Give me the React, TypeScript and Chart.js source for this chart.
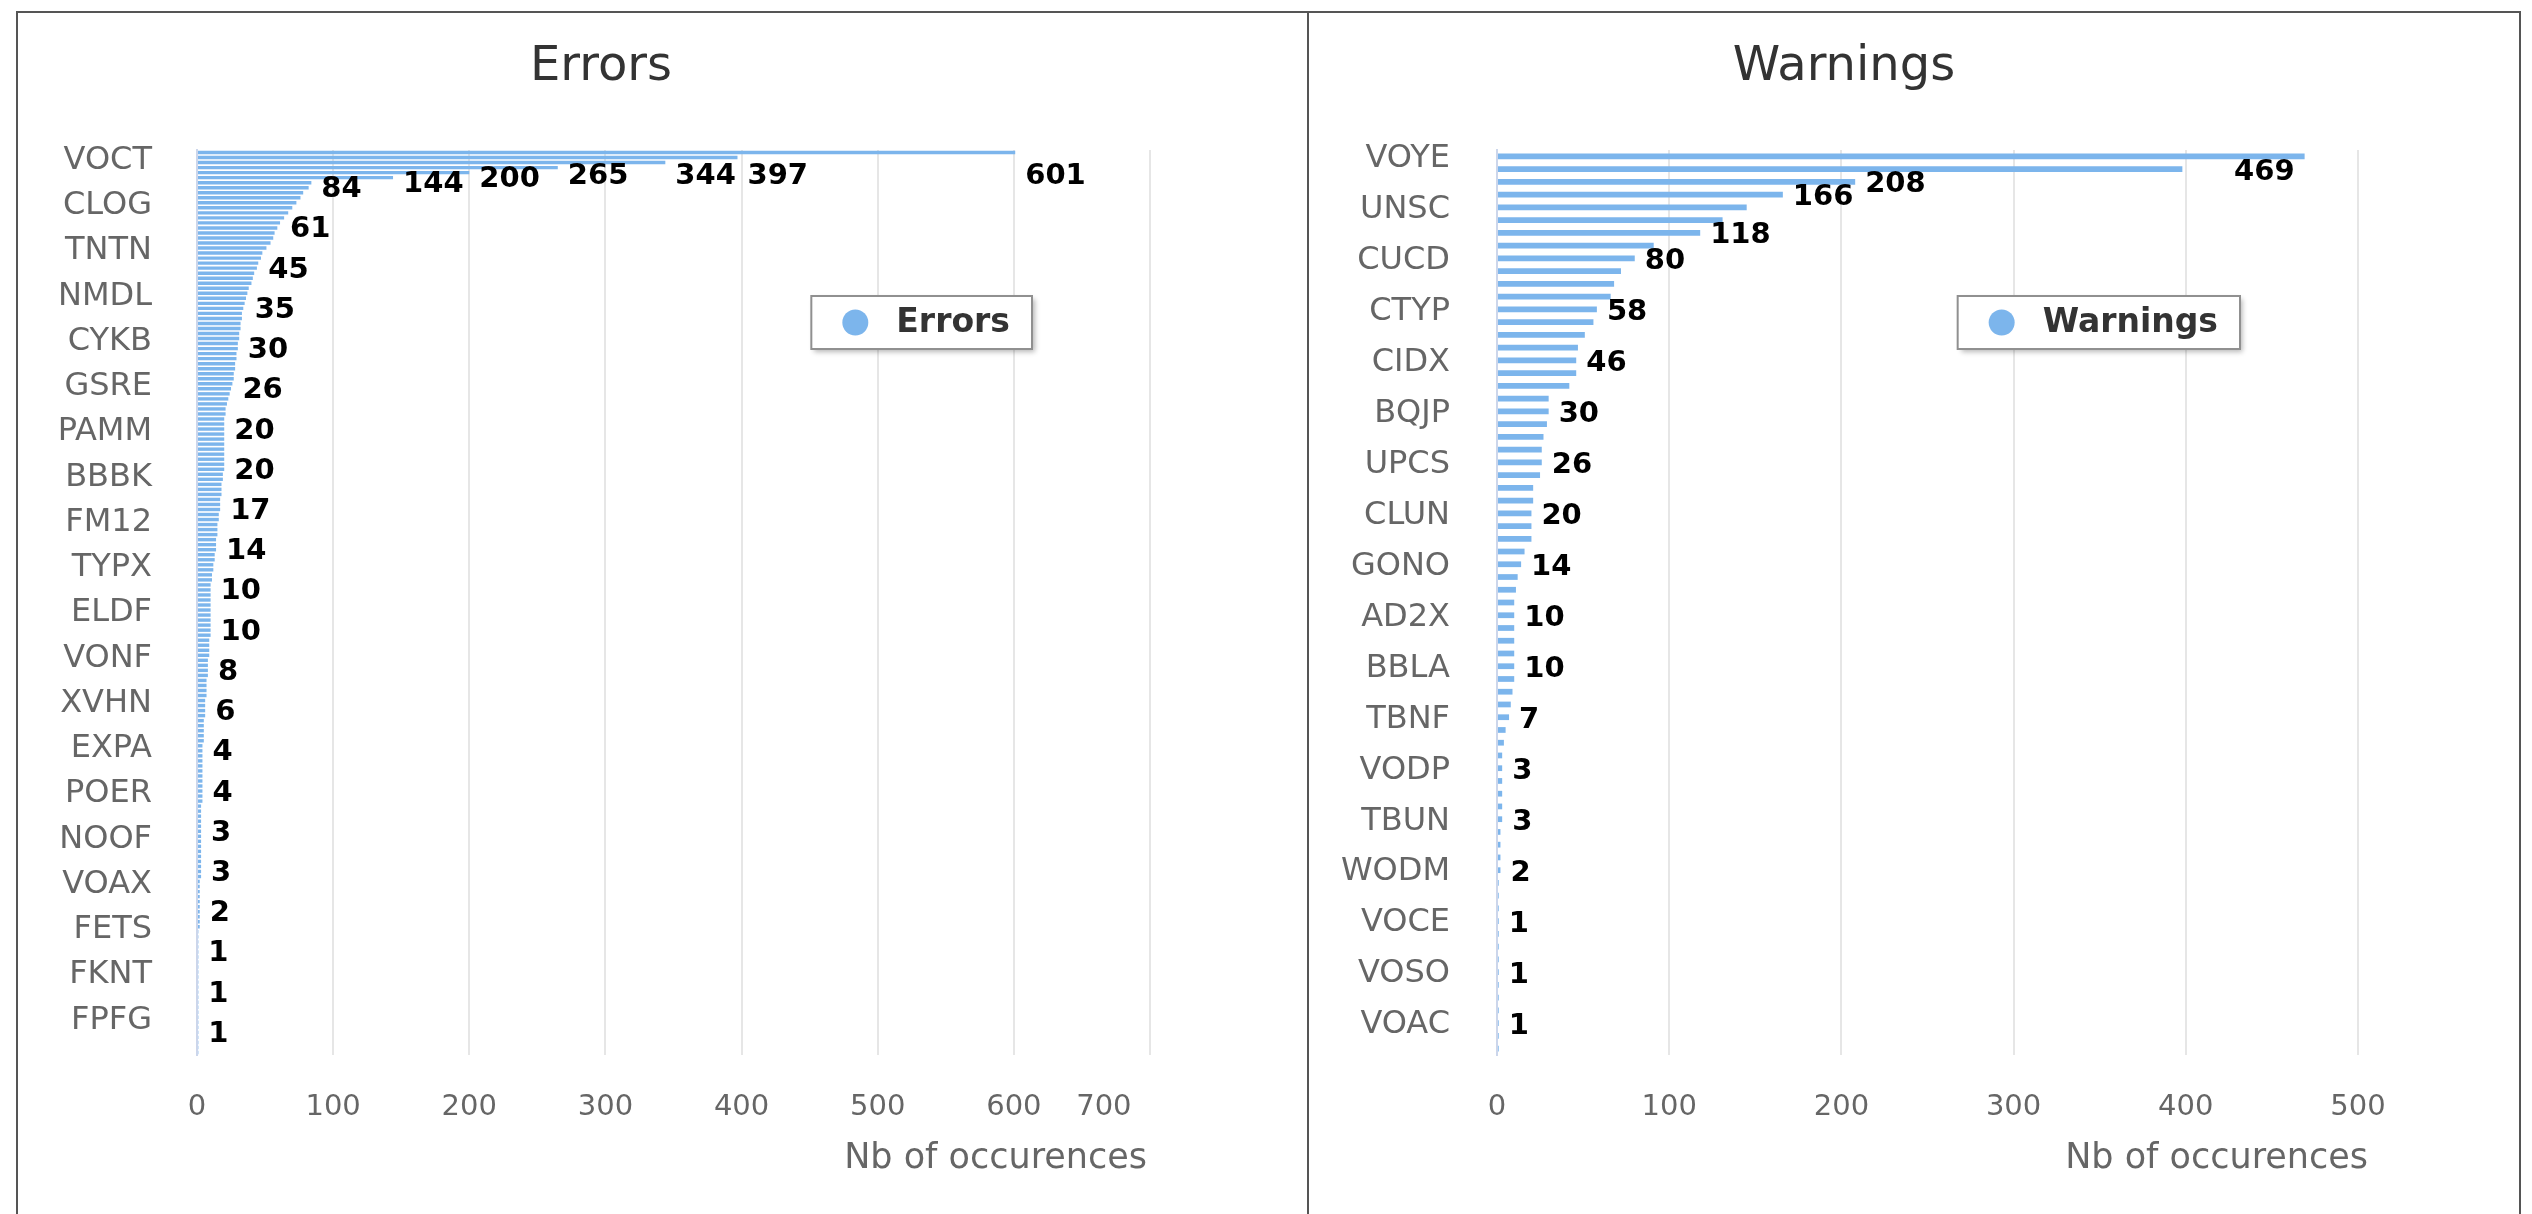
import React, { useEffect, useRef } from 'react';
import { Chart, registerables } from 'chart.js';

Chart.register(...registerables);

// ---------------- DATA ----------------
const errorTickNames = ['VOCT', 'CLOG', 'TNTN', 'NMDL', 'CYKB', 'GSRE', 'PAMM', 'BBBK', 'FM12', 'TYPX',
  'ELDF', 'VONF', 'XVHN', 'EXPA', 'POER', 'NOOF', 'VOAX', 'FETS', 'FKNT', 'FPFG'];
const errorLabelStep = 9;
const errorValues = [
  601, 397, 344, 265, 200, 144,
  84, 82, 78, 76, 73, 70, 67, 64,
  61, 59, 57, 56, 54, 51, 48, 47,
  45, 44, 42, 41, 40, 38, 37, 36,
  35, 34, 33, 33, 32, 32, 31, 31,
  30, 30, 29, 29, 28, 28, 27, 27,
  26, 25, 24, 23, 22, 21, 21, 20,
  20, 20, 20, 20, 20, 20, 20, 20,
  20, 20, 19, 19, 18, 18, 18, 17,
  17, 17, 16, 16, 15, 15, 15, 14,
  14, 14, 13, 13, 12, 12, 11, 11,
  10, 10, 10, 10, 10, 10, 10, 10,
  10, 10, 10, 9, 9, 9, 9, 8,
  8, 8, 8, 7, 7, 7, 7, 6,
  6, 6, 6, 5, 5, 5, 5, 5,
  4, 4, 4, 4, 4, 4, 4, 4,
  4, 4, 4, 4, 3, 3, 3, 3,
  3, 3, 3, 3, 3, 3, 3, 3,
  3, 3, 3, 2, 2, 2, 2, 2,
  2, 2, 2, 2, 2, 1, 1, 1,
  1, 1, 1, 1, 1, 1, 1, 1,
  1, 1, 1, 1, 1, 1, 1, 1,
  1, 1, 1, 1, 1, 1,
];
const errorAxisMax = 700;

const warningTickNames = ['VOYE', 'UNSC', 'CUCD', 'CTYP', 'CIDX', 'BQJP', 'UPCS', 'CLUN', 'GONO',
  'AD2X', 'BBLA', 'TBNF', 'VODP', 'TBUN', 'WODM', 'VOCE', 'VOSO', 'VOAC'];
const warningLabelStep = 4;
const warningValues = [
  469, 398, 208, 166, 145, 131, 118, 91,
  80, 72, 68, 66, 58, 56, 51, 47,
  46, 46, 42, 30, 30, 29, 27, 26,
  26, 25, 21, 21, 20, 20, 20, 16,
  14, 12, 11, 10, 10, 10, 10, 10,
  10, 10, 9, 8, 7, 5, 4, 3,
  3, 3, 3, 3, 3, 2, 2, 2,
  2, 1, 1, 1, 1, 1, 1, 1,
  1, 1, 1, 1, 1, 1, 1,
];
const warningAxisMax = 500;
const axisStep = 100;
const axisTitleText = 'Nb of occurences';

function buildCategories(names: string[], step: number, count: number): string[] {
  const out: string[] = [];
  for (let i = 0; i < count; i++) {
    out.push(i % step === 0 && names[i / step] !== undefined ? names[i / step] : '');
  }
  return out;
}

// ---------------- STYLE ----------------
const FONT = '"DejaVu Sans", Verdana, sans-serif';
const BAR_COLOR = '#7cb5ec';

const decorPlugin = {
  id: 'decor',
  afterDatasetsDraw(chart: any, _args: any, opts: any) {
    const ctx = chart.ctx;
    const meta = chart.getDatasetMeta(0);
    const data = chart.data.datasets[0].data as number[];
    const area = chart.chartArea;
    const H = opts.labelBoxH;
    const pad = 4;
    const gap = 10;
    ctx.save();
    ctx.font = `bold ${opts.labelSize}px ${FONT}`;
    ctx.textBaseline = 'middle';
    ctx.textAlign = 'left';
    ctx.fillStyle = '#000';
    const order = data.map((_v, i) => i).sort((a, b) => data[b] - data[a] || a - b);
    const placed: any[] = [];
    for (const i of order) {
      const el = meta.data[i];
      const text = String(data[i]);
      const w = ctx.measureText(text).width;
      let tx = el.x + gap;
      if (tx + w + pad > area.right) tx = el.x - gap - w;
      const y = Math.min(Math.max(el.y, area.top + H / 2), area.bottom - H / 2);
      const box = { l: tx - pad, r: tx + w + pad, t: y - H / 2, b: y + H / 2 };
      if (placed.some((p) => p.l < box.r && box.l < p.r && p.t < box.b && box.t < p.b)) continue;
      placed.push(box);
      ctx.fillText(text, tx, y + opts.labelDy);
    }
    ctx.restore();
  },
  afterDraw(chart: any, _args: any, opts: any) {
    const ctx = chart.ctx;
    const area = chart.chartArea;
    const ds = chart.data.datasets[0];
    ctx.save();
    // title
    ctx.font = `normal ${opts.titleSize}px ${FONT}`;
    ctx.fillStyle = '#333333';
    ctx.textAlign = 'center';
    ctx.textBaseline = 'middle';
    ctx.fillText(opts.title, opts.titleX, opts.titleY);
    // axis title
    ctx.font = `normal ${opts.axisTitleSize}px ${FONT}`;
    ctx.fillStyle = '#666666';
    ctx.textAlign = 'right';
    ctx.fillText(opts.axisTitle, area.right + opts.axisTitleDx, opts.axisTitleY);
    // legend
    ctx.font = `bold ${opts.legendSize}px ${FONT}`;
    const tw = ctx.measureText(ds.label).width;
    const bw = 85 + tw + 22;
    const bh = 53;
    const bx = area.right - 118 - bw;
    const by = area.top + 146;
    ctx.save();
    ctx.shadowColor = 'rgba(0,0,0,0.28)';
    ctx.shadowBlur = 5;
    ctx.shadowOffsetX = 3;
    ctx.shadowOffsetY = 3;
    ctx.fillStyle = '#ffffff';
    ctx.fillRect(bx, by, bw, bh);
    ctx.restore();
    ctx.strokeStyle = '#909090';
    ctx.lineWidth = 2;
    ctx.strokeRect(bx, by, bw, bh);
    ctx.fillStyle = ds.backgroundColor;
    ctx.beginPath();
    ctx.arc(bx + 44, by + bh / 2, 13, 0, Math.PI * 2);
    ctx.fill();
    ctx.fillStyle = '#333333';
    ctx.textAlign = 'left';
    ctx.textBaseline = 'middle';
    ctx.fillText(ds.label, bx + 85, by + bh / 2 + 1);
    ctx.restore();
  },
};

type PanelCfg = {
  title: string;
  values: number[];
  categories: string[];
  max: number;
  left: number;
  top: number;
  width: number;
  height: number;
  yAxisWidth: number;
  padRight: number;
  padTop: number;
  xAxisHeight: number;
  yTickPad: number;
  yLabelOffset: number;
  labelDy: number;
  lastTickPad: number;
  barFrac: number;
  titleX: number;
  axisTitleDx: number;
};

function BarPanel({ cfg }: { cfg: PanelCfg }) {
  const ref = useRef<HTMLCanvasElement | null>(null);
  useEffect(() => {
    if (!ref.current) return;
    const yFont = { family: FONT, size: 32 };
    const xFont = { family: FONT, size: 29 };
    const chart = new Chart(ref.current, {
      type: 'bar',
      data: {
        labels: cfg.categories,
        datasets: [
          {
            label: cfg.title,
            data: cfg.values,
            backgroundColor: BAR_COLOR,
            borderWidth: 0,
            categoryPercentage: 1,
            barPercentage: cfg.barFrac,
          },
        ],
      },
      options: {
        indexAxis: 'y',
        animation: false,
        responsive: false,
        maintainAspectRatio: false,
        layout: { padding: { left: 0, right: cfg.padRight, top: cfg.padTop, bottom: 0 } },
        plugins: {
          legend: { display: false },
          title: { display: false },
          tooltip: { enabled: false },
          decor: {
            title: cfg.title,
            titleX: cfg.titleX,
            titleY: 55,
            titleSize: 48,
            axisTitle: axisTitleText,
            axisTitleDx: cfg.axisTitleDx,
            axisTitleY: 1146,
            axisTitleSize: 35,
            legendSize: 33,
            labelSize: 29,
            labelBoxH: 39,
            labelDy: cfg.labelDy,
          },
        } as any,
        scales: {
          y: {
            type: 'category',
            grid: { display: false, drawTicks: false },
            border: { display: true, color: '#ccd6eb', width: 2 },
            ticks: {
              autoSkip: false,
              padding: cfg.yTickPad,
              labelOffset: cfg.yLabelOffset,
              color: '#666666',
              font: yFont,
            },
            afterFit: (s: any) => {
              s.width = cfg.yAxisWidth;
            },
          },
          x: {
            type: 'linear',
            min: 0,
            max: cfg.max,
            grid: { color: '#e6e6e6', lineWidth: 2, drawTicks: false },
            border: { display: false },
            ticks: {
              stepSize: axisStep,
              padding: 35,
              autoSkip: false,
              maxRotation: 0,
              minRotation: 0,
              color: '#666666',
              font: xFont,
              callback: (v: any) =>
                v === cfg.max && cfg.lastTickPad > 0 ? String(v) + '\u2007'.repeat(cfg.lastTickPad) : String(v),
            },
            afterFit: (s: any) => {
              s.height = cfg.xAxisHeight;
            },
          },
        } as any,
      },
      plugins: [decorPlugin as any],
    });
    return () => chart.destroy();
  }, [cfg]);
  return (
    <canvas
      ref={ref}
      width={cfg.width}
      height={cfg.height}
      style={{ position: 'absolute', left: cfg.left, top: cfg.top, width: cfg.width, height: cfg.height }}
    />
  );
}

const errorsCfg: PanelCfg = {
  title: 'Errors',
  values: errorValues,
  categories: buildCategories(errorTickNames, errorLabelStep, errorValues.length),
  max: errorAxisMax,
  left: 18,
  top: 13,
  width: 1288,
  height: 1201,
  yAxisWidth: 179,
  padRight: 156,
  padTop: 137,
  xAxisHeight: 159,
  yTickPad: 45,
  yLabelOffset: 8,
  labelDy: 7,
  lastTickPad: 5,
  barFrac: 0.68,
  titleX: 583,
  axisTitleDx: -3,
};

const warningsCfg: PanelCfg = {
  title: 'Warnings',
  values: warningValues,
  categories: buildCategories(warningTickNames, warningLabelStep, warningValues.length),
  max: warningAxisMax,
  left: 1310,
  top: 13,
  width: 1209,
  height: 1201,
  yAxisWidth: 187,
  padRight: 161,
  padTop: 137,
  xAxisHeight: 159,
  yTickPad: 47,
  yLabelOffset: 2,
  labelDy: 3,
  lastTickPad: 0,
  barFrac: 0.45,
  titleX: 534,
  axisTitleDx: 10,
};

export default function App() {
  return (
    <div
      style={{
        position: 'fixed',
        left: 0,
        top: 0,
        width: 2532,
        height: 1214,
        overflow: 'hidden',
        background: '#ffffff',
      }}
    >
      <div
        style={{
          position: 'absolute',
          left: 16,
          top: 11,
          width: 2505,
          height: 1260,
          borderTop: '2px solid #555',
          borderLeft: '2px solid #555',
          borderRight: '2px solid #555',
          boxSizing: 'border-box',
        }}
      />
      <div style={{ position: 'absolute', left: 1307, top: 11, width: 2, height: 1203, background: '#555' }} />
      <BarPanel cfg={errorsCfg} />
      <BarPanel cfg={warningsCfg} />
    </div>
  );
}
